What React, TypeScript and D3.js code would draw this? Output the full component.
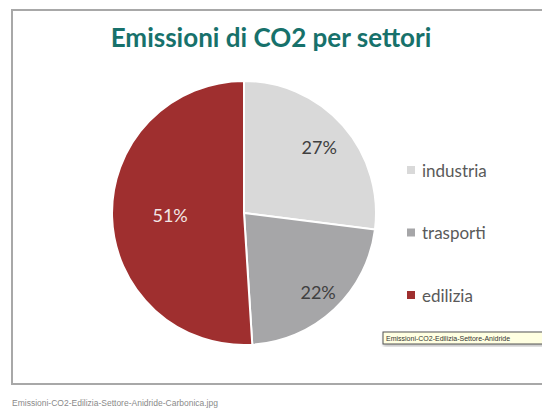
import React from "react";
import * as d3 from "d3";

const categories = ["industria", "trasporti", "edilizia"];
const values = [27, 22, 51];
const colors = ["#d9d9d9", "#a6a6a8", "#9f2f2f"];
const labelColors = ["#404040", "#404040", "#f2e6e6"];
const labelRadius = [0.76, 0.82, 0.56];
const title = "Emissioni di CO2 per settori";
const caption = "Emissioni-CO2-Edilizia-Settore-Anidride-Carbonica.jpg";
const tooltip = "Emissioni-CO2-Edilizia-Settore-Anidride";

export default function App() {
  const W = 542, H = 409;
  const cx = 244, cy = 213, r = 132;
  const pie = d3.pie<number>().sort(null).value((d) => d);
  const arcs = pie(values);
  const arc = d3.arc<d3.PieArcDatum<number>>().innerRadius(0).outerRadius(r);
  const legendY = d3.scalePoint<string>().domain(categories).range([170, 295]);
  const font = "Lato, 'Open Sans', sans-serif";
  return (
    <div style={{ position: "absolute", left: 0, top: 0 }}>
      <svg width={W} height={H} style={{ display: "block", background: "#fff" }}>
        <defs>
          <filter id="sh" x="-5%" y="-5%" width="110%" height="130%">
            <feDropShadow dx="1" dy="2" stdDeviation="1.5" floodColor="#000" floodOpacity="0.25" />
          </filter>
        </defs>
        <rect x={12} y={10} width={545} height={374} fill="#fff" stroke="#a8a8a8" strokeWidth={2} />
        <text x={271} y={47} textAnchor="middle" fontFamily={font} fontWeight="bold" fontSize={26} fill="#17716b">{title}</text>
        <g transform={`translate(${cx},${cy})`}>
          {arcs.map((a, i) => (
            <path key={i} d={arc(a) || ""} fill={colors[i]} stroke="#fff" strokeWidth={2} />
          ))}
          {arcs.map((a, i) => {
            const la = d3.arc<d3.PieArcDatum<number>>().innerRadius(r * labelRadius[i]).outerRadius(r * labelRadius[i]);
            const [x, y] = la.centroid(a);
            return (
              <text key={"l" + i} x={x} y={y} textAnchor="middle" dominantBaseline="central" fontFamily={font} fontSize={18} fill={labelColors[i]}>
                {`${values[i]}%`}
              </text>
            );
          })}
        </g>
        {categories.map((c, i) => (
          <g key={c} transform={`translate(407,${legendY(c)})`}>
            <rect x={0} y={-4} width={8} height={8} fill={colors[i]} />
            <text x={15} y={0} dominantBaseline="central" fontFamily={font} fontSize={17} fill="#5a5a5a">{c}</text>
          </g>
        ))}
        <g filter="url(#sh)">
          <rect x={383} y={332} width={170} height={12} fill="#ffffe1" stroke="#555" strokeWidth={1} />
        </g>
        <text x={386} y={338.5} dominantBaseline="central" fontFamily="'Liberation Sans', Arial, sans-serif" fontSize={7} fill="#333">{tooltip}</text>
        <text x={12} y={403} dominantBaseline="central" fontFamily="'Liberation Sans', Arial, sans-serif" fontSize={8.5} fill="#8a8a8a">{caption}</text>
      </svg>
    </div>
  );
}
